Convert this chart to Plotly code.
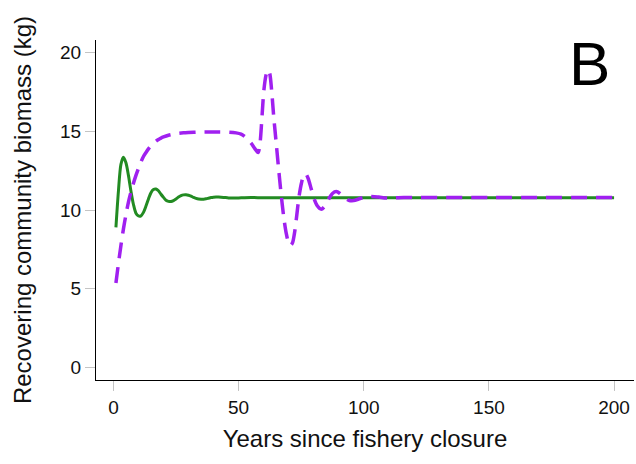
import plotly.graph_objects as go

# Recovering community biomass (kg) by years since fishery closure
green_years = [1, 2, 3, 4, 5, 6, 7, 8, 9, 10, 11, 12, 13, 14, 15, 16, 17, 18, 19, 20,
               21, 22, 23, 24, 25, 26, 27, 28, 29, 30, 31, 32, 33, 34, 35, 36, 37, 38,
               39, 40, 41, 42, 44, 46, 48, 50, 55, 60, 70, 80, 100, 150, 200]
green_biomass = [8.9, 11.2, 12.9, 13.35, 13.0, 12.2, 11.2, 10.35, 9.8, 9.62, 9.63, 9.85,
                 10.25, 10.7, 11.1, 11.3, 11.33, 11.22, 11.0, 10.8, 10.62, 10.55, 10.54,
                 10.6, 10.7, 10.82, 10.91, 10.96, 10.97, 10.94, 10.88, 10.8, 10.74, 10.7,
                 10.69, 10.69, 10.71, 10.75, 10.79, 10.81, 10.82, 10.82, 10.8, 10.77,
                 10.76, 10.77, 10.79, 10.78, 10.78, 10.78, 10.78, 10.78, 10.78]

purple_years = [1, 2, 3, 4, 5, 6, 7, 8, 9, 10, 11, 12, 13, 14, 15, 16, 17, 18, 19, 20,
                22, 24, 26, 28, 30, 34, 38, 42, 46, 49, 51, 53, 55, 56.5, 57.8, 58.6,
                59.3, 60.1, 61, 61.7, 62.4, 63.2, 64.0, 65.0, 66.0, 67.0, 68.0, 69.0,
                70.0, 70.7, 71.5, 72.3, 73.2, 74.1, 75.1, 76.0, 76.8, 77.8, 79, 80.2,
                81.5, 83, 84.5, 86, 87.5, 89, 90.5, 92, 94, 96, 98, 100, 103, 106, 109,
                112, 116, 120, 150, 200]
purple_biomass = [5.36, 6.6, 7.75, 8.8, 9.7, 10.5, 11.15, 11.7, 12.2, 12.65, 13.05, 13.4,
                  13.65, 13.88, 14.07, 14.23, 14.37, 14.48, 14.57, 14.64, 14.75, 14.82,
                  14.87, 14.9, 14.92, 14.95, 14.96, 14.96, 14.95, 14.9, 14.82, 14.6,
                  14.25, 13.9, 13.65, 14.3, 15.8, 17.6, 18.6, 18.9, 18.7, 17.6, 16.0,
                  14.3, 12.6, 11.0, 9.6, 8.55, 7.9, 7.75, 7.9, 8.5, 9.6, 10.8, 11.7,
                  12.2, 12.3, 12.0, 11.35, 10.7, 10.25, 10.05, 10.25, 10.7, 11.05, 11.17,
                  11.05, 10.82, 10.62, 10.6, 10.7, 10.8, 10.86, 10.82, 10.76, 10.77, 10.8,
                  10.8, 10.8, 10.8]

x_ticks = [0, 50, 100, 150, 200]
y_ticks = [0, 5, 10, 15, 20]

FONT = "Liberation Sans, Arial, sans-serif"

fig = go.Figure()
fig.add_trace(go.Scatter(
    x=green_years, y=green_biomass, mode="lines",
    line=dict(color="#228B22", width=3, shape="spline", smoothing=0.8),
    showlegend=False, hoverinfo="skip",
))
fig.add_trace(go.Scatter(
    x=purple_years, y=purple_biomass, mode="lines",
    line=dict(color="#A020F0", width=3.5, dash="16px,9px", shape="spline", smoothing=0.8),
    showlegend=False, hoverinfo="skip",
))

axis_common = dict(
    showgrid=False, zeroline=False, showline=True, linecolor="#000000", linewidth=1.3,
    ticks="outside", ticklen=10, tickwidth=1.2, tickcolor="#c4c4c4",
    tickfont=dict(family=FONT, size=19, color="#111111"),
    mirror=False, fixedrange=True,
)

fig.update_xaxes(
    range=[-6.96, 207.96], tickvals=x_ticks, ticktext=[str(v) for v in x_ticks],
    title=dict(text="Years since fishery closure", standoff=13,
               font=dict(family=FONT, size=24, color="#111111")),
    **axis_common,
)
fig.update_yaxes(
    range=[-0.8, 20.8], tickvals=y_ticks, ticktext=[str(v) for v in y_ticks],
    title=dict(text="Recovering community biomass (kg)", standoff=21,
               font=dict(family=FONT, size=24, color="#111111")),
    **axis_common,
)

fig.add_annotation(
    text="B", xref="paper", yref="paper", x=0.917, y=0.93,
    xanchor="center", yanchor="middle", showarrow=False,
    font=dict(family=FONT, size=62, color="#000000"),
)

fig.update_layout(
    width=636, height=464,
    margin=dict(l=96, r=2, t=40, b=84),
    paper_bgcolor="white", plot_bgcolor="white",
)

fig.write_html("out.html")
